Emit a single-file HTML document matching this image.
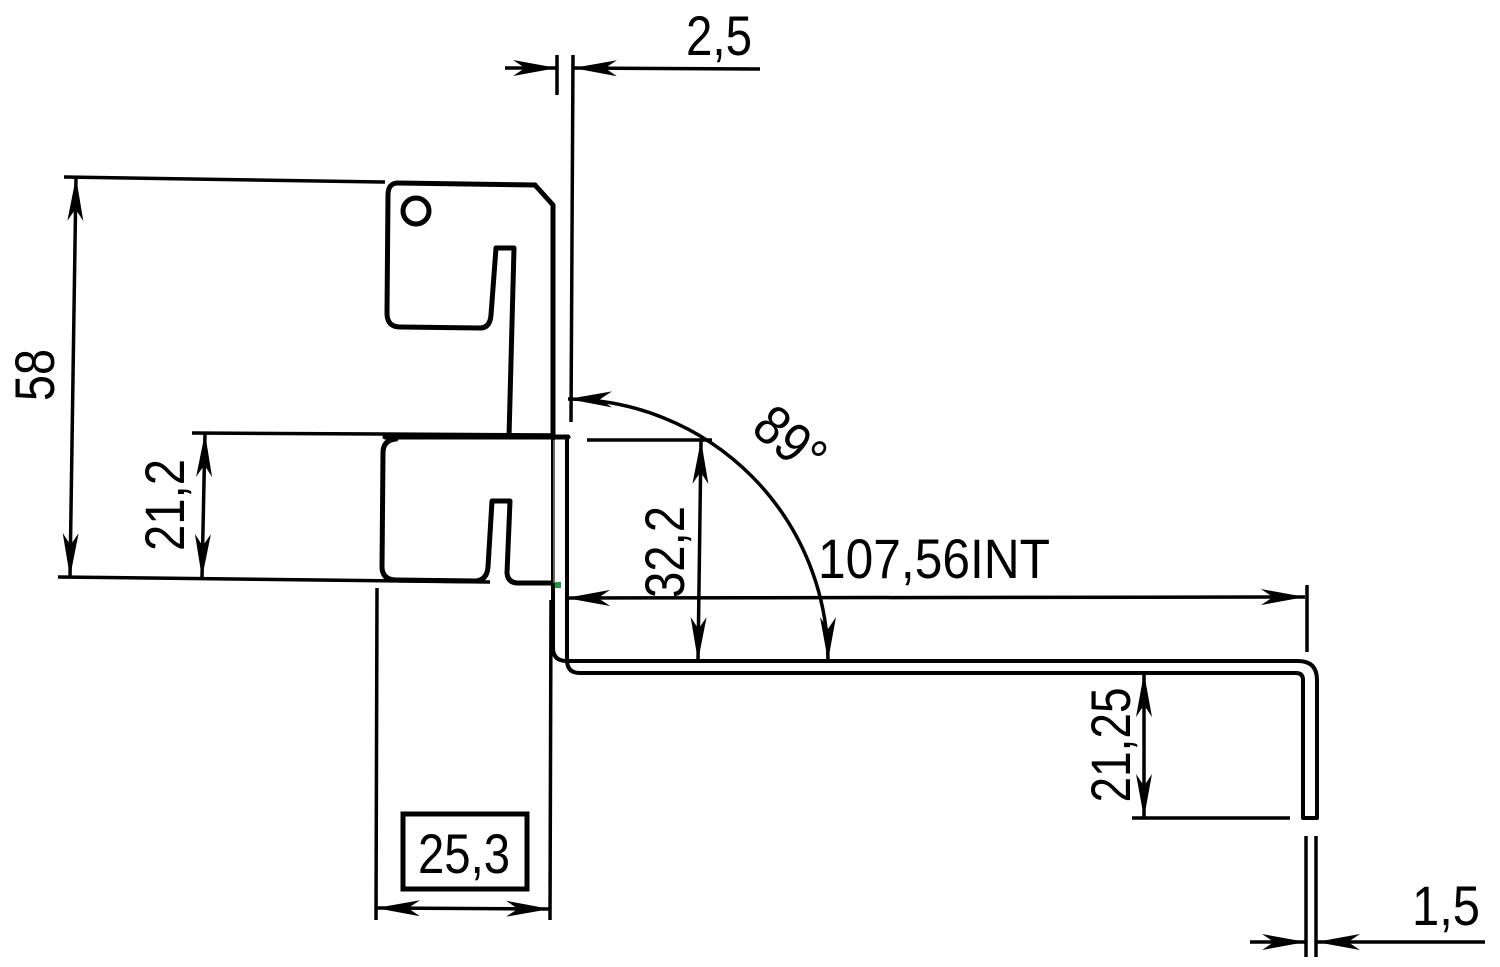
<!DOCTYPE html>
<html><head><meta charset="utf-8"><style>html,body{margin:0;padding:0;background:#fff}svg{display:block}</style></head>
<body>
<svg width="1500" height="967" viewBox="0 0 1500 967" xmlns="http://www.w3.org/2000/svg">
<defs>
<marker id="a" viewBox="0 0 44 16" refX="44" refY="8" markerWidth="44" markerHeight="16" markerUnits="userSpaceOnUse" orient="auto-start-reverse">
<path d="M0,0 L44,8 L0,16 L12,8 Z" fill="#000"/>
</marker>
</defs>
<g fill="none" stroke="#000" stroke-width="5" stroke-linecap="round" stroke-linejoin="round">
<path d="M535,185 L553,205 L553,437"/>
<path d="M535,185 L398,183 Q388,183 388,195 L387,313 Q387,327 400,327 L480,328 Q490,328 491,315 L496,248 L514,248 L509,437"/>
<circle cx="416" cy="211" r="13"/>
<path d="M385,437 L568,437"/>
<path d="M396,439 Q383,440 383,453 L382,568 Q383,580 396,580 L476,581 Q487,580 488,567 L492,501 L510,501 L507,573 Q508,583 518,583 L552,583"/>
</g>
<g fill="none" stroke="#000" stroke-width="4" stroke-linecap="round" stroke-linejoin="round">
<path d="M553,437 L553,648 Q553,661 567,661 L1298,661 Q1317,661 1317,680 L1317,818 L1303,818 L1303,680 Q1303,673 1296,673 L580,673 Q567,673 567,660 L567,437"/>
</g>
<path d="M554,440 L554,583" stroke="#888" stroke-width="1.5"/>
<g fill="none" stroke="#000" stroke-width="3.5">
<line x1="557" y1="55" x2="557" y2="95"/>
<line x1="573" y1="55" x2="571" y2="422"/>
<line x1="505" y1="68" x2="557" y2="68" marker-end="url(#a)"/>
<line x1="760" y1="69" x2="573" y2="68" marker-end="url(#a)"/>
<line x1="64" y1="177" x2="385" y2="182"/>
<line x1="58" y1="577" x2="490" y2="582"/>
<line x1="76" y1="177" x2="70" y2="577" marker-start="url(#a)" marker-end="url(#a)"/>
<line x1="192" y1="433" x2="553" y2="435"/>
<line x1="205" y1="433" x2="202" y2="578" marker-start="url(#a)" marker-end="url(#a)"/>
<line x1="377" y1="588" x2="376" y2="920"/>
<line x1="551" y1="600" x2="550" y2="920"/>
<line x1="376" y1="908" x2="550" y2="909" marker-start="url(#a)" marker-end="url(#a)"/>
<rect x="403" y="814" width="124" height="75" stroke-width="5"/>
<line x1="587" y1="440" x2="712" y2="440"/>
<line x1="701" y1="440" x2="698" y2="661" marker-start="url(#a)" marker-end="url(#a)"/>
<path d="M568,399 A262,262 0 0 1 828,661" marker-start="url(#a)" marker-end="url(#a)"/>
<line x1="566" y1="598" x2="1305" y2="597" marker-start="url(#a)" marker-end="url(#a)"/>
<line x1="1307" y1="585" x2="1307" y2="652"/>
<line x1="1132" y1="818" x2="1290" y2="818"/>
<line x1="1144" y1="673" x2="1144" y2="818" marker-start="url(#a)" marker-end="url(#a)"/>
<line x1="1306" y1="836" x2="1306" y2="957"/>
<line x1="1316" y1="836" x2="1316" y2="957"/>
<line x1="1250" y1="942" x2="1306" y2="942" marker-end="url(#a)"/>
<line x1="1485" y1="942" x2="1316" y2="942" marker-end="url(#a)"/>
</g>
<g font-family="Liberation Sans, DejaVu Sans, sans-serif" font-size="56" fill="#000">
<text x="686" y="55" textLength="66" lengthAdjust="spacingAndGlyphs">2,5</text>
<text transform="translate(54,375) rotate(-90)" text-anchor="middle" textLength="52" lengthAdjust="spacingAndGlyphs">58</text>
<text transform="translate(184,505) rotate(-90)" text-anchor="middle" textLength="92" lengthAdjust="spacingAndGlyphs">21,2</text>
<text x="418" y="873" textLength="92" lengthAdjust="spacingAndGlyphs">25,3</text>
<text transform="translate(684,552) rotate(-90)" text-anchor="middle" textLength="92" lengthAdjust="spacingAndGlyphs">32,2</text>
<text transform="translate(778,455) rotate(40)" text-anchor="middle" textLength="74" lengthAdjust="spacingAndGlyphs">89°</text>
<text x="818" y="578" textLength="232" lengthAdjust="spacingAndGlyphs">107,56INT</text>
<text transform="translate(1130,745) rotate(-90)" text-anchor="middle" textLength="115" lengthAdjust="spacingAndGlyphs">21,25</text>
<text x="1412" y="925" textLength="68" lengthAdjust="spacingAndGlyphs">1,5</text>
</g>
<rect x="555" y="582" width="6" height="6" fill="#1a9a3a"/>
</svg>
</body></html>
